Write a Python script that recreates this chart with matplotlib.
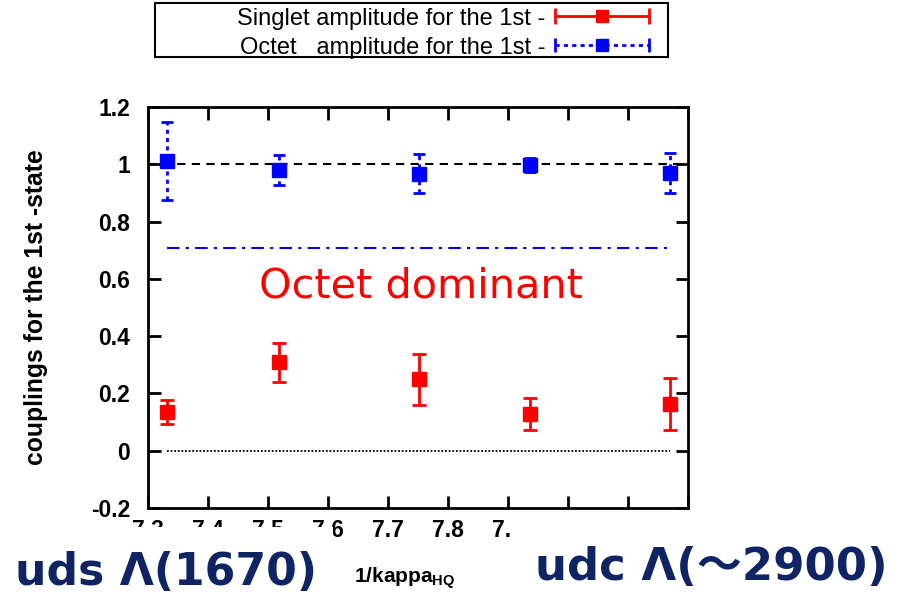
import matplotlib
matplotlib.use("Agg")
import matplotlib.pyplot as plt
from matplotlib.lines import Line2D
from matplotlib.patches import Rectangle
from matplotlib.legend_handler import HandlerLine2D, HandlerTuple
import numpy as np

# 1/kappa_HQ values of the five points
inv_kappa = [7.331, 7.519, 7.752, 7.937, 8.170]

# singlet amplitude with asymmetric errors (lower, upper)
singlet = [0.135, 0.309, 0.249, 0.129, 0.163]
singlet_lo = [0.092, 0.240, 0.160, 0.071, 0.073]
singlet_hi = [0.177, 0.377, 0.336, 0.185, 0.253]

# octet amplitude
octet = [1.013, 0.981, 0.967, 0.998, 0.970]
octet_lo = [0.874, 0.926, 0.900, 0.974, 0.900]
octet_hi = [1.149, 1.034, 1.037, 1.022, 1.040]

x_ticks = [7.3, 7.4, 7.5, 7.6, 7.7, 7.8, 7.9, 8.0, 8.1, 8.2]
y_ticks = [-0.2, 0, 0.2, 0.4, 0.6, 0.8, 1.0, 1.2]
y_tick_labels = ["-0.2", "0", "0.2", "0.4", "0.6", "0.8", "1", "1.2"]

plt.rcParams["font.family"] = ["Liberation Sans", "DejaVu Sans"]

fig = plt.figure(figsize=(8.99, 5.97), dpi=100)
ax = fig.add_axes([148 / 899, 89 / 597, 540 / 899, 401 / 597])

xs = np.array(inv_kappa)
s = np.array(singlet)
o = np.array(octet)
s_err = [s - np.array(singlet_lo), np.array(singlet_hi) - s]
o_err = [o - np.array(octet_lo), np.array(octet_hi) - o]

# reference lines
ax.axhline(1.0, color="black", lw=1.5, ls=(0, (4, 3)), zorder=1)
ax.hlines(0.0, xs.min(), xs.max(), color="black", lw=1.3, ls=(0, (1, 1)), zorder=1)
ax.hlines(1 / np.sqrt(2), xs.min(), xs.max(), color="#0000ee", lw=1.5,
          ls=(0, (6, 3, 1.5, 3)), zorder=1)

# singlet points
ax.errorbar(xs, s, yerr=s_err, fmt="s", color="red", ms=9.5,
            elinewidth=2, capsize=5, capthick=2, zorder=3)

# octet points, dashed error bars
eb_o = ax.errorbar(xs, o, yerr=o_err, fmt="s", color="blue", ms=9.5,
                   elinewidth=2, capsize=4, capthick=2, zorder=3)
eb_o[2][0].set_linestyle((0, (1.5, 1.5)))

ax.text(7.755, 0.534, "Octet dominant", color="red", fontsize=29.8,
        family="DejaVu Sans", ha="center", va="baseline")

ax.set_xlim(7.3, 8.2)
ax.set_ylim(-0.2, 1.2)
ax.set_xticks(x_ticks)
ax.set_xticklabels([f"{v:.1f}" for v in x_ticks])
ax.set_yticks(y_ticks)
ax.set_yticklabels(y_tick_labels)
ax.tick_params(direction="in", length=9, width=2, top=True, right=True,
               labelsize=16.5)
ax.tick_params(axis="y", pad=13)
ax.tick_params(axis="x", pad=8)
for lbl in ax.get_xticklabels() + ax.get_yticklabels():
    lbl.set_fontweight("bold")
for sp in ax.spines.values():
    sp.set_linewidth(2)

ax.set_ylabel("couplings for the 1st -state", fontsize=17.8, fontweight="bold")
ax.yaxis.set_label_coords(-0.185, 0.5)
ax.set_xlabel(r"1/kappa$_{\mathregular{HQ}}$", fontsize=15, fontweight="bold")
ax.xaxis.set_label_coords(0.476, -0.142)

# legend in the top box
red_line = Line2D([], [], color="red", lw=2, marker="|", ms=12, mew=2)
red_sq = Line2D([], [], color="red", ls="none", marker="s", ms=9)
blue_line = Line2D([], [], color="blue", lw=2, ls=(0, (1.5, 1.5)),
                   marker="|", ms=10, mew=2)
blue_sq = Line2D([], [], color="blue", ls="none", marker="s", ms=9)
leg = fig.legend([(red_line, red_sq), (blue_line, blue_sq)],
                 ["Singlet amplitude for the 1st -",
                  "Octet   amplitude for the 1st -"],
                 handler_map={red_line: HandlerLine2D(numpoints=2, marker_pad=0),
                              blue_line: HandlerLine2D(numpoints=2, marker_pad=0),
                              tuple: HandlerTuple(ndivide=1, pad=0)},
                 loc="upper right", bbox_to_anchor=(666 / 899, 1 + 9 / 597),
                 frameon=False, markerfirst=False, fontsize=17,
                 handlelength=4.0, handletextpad=0.42, labelspacing=0.3,
                 borderpad=0.2)
fig.patches.append(Rectangle((155 / 899, 1 - 57 / 597), 513 / 899, 54 / 597,
                             transform=fig.transFigure, fill=False,
                             edgecolor="black", lw=1.5))

# white patches of the slide labels hide part of the tick labels
fig.patches.append(Rectangle((0, 0), 333 / 899, 70 / 597,
                             transform=fig.transFigure, facecolor="white",
                             edgecolor="none", zorder=2.5))
fig.patches.append(Rectangle((510 / 899, 0), 389 / 899, 82 / 597,
                             transform=fig.transFigure, facecolor="white",
                             edgecolor="none", zorder=2.5))

navy = "#0f2464"
fig.text(15 / 899, 1 - 585 / 597, "uds \u039b(1670)", fontsize=31.8,
         fontweight="bold", color=navy, family="DejaVu Sans", va="baseline")
fig.text(535 / 899, 1 - 580 / 597, "udc \u039b(\uff5e2900)", fontsize=32.4,
         fontweight="bold", color=navy,
         family=["DejaVu Sans", "Noto Sans CJK JP"], va="baseline")

fig.savefig("out.png", dpi=100)
